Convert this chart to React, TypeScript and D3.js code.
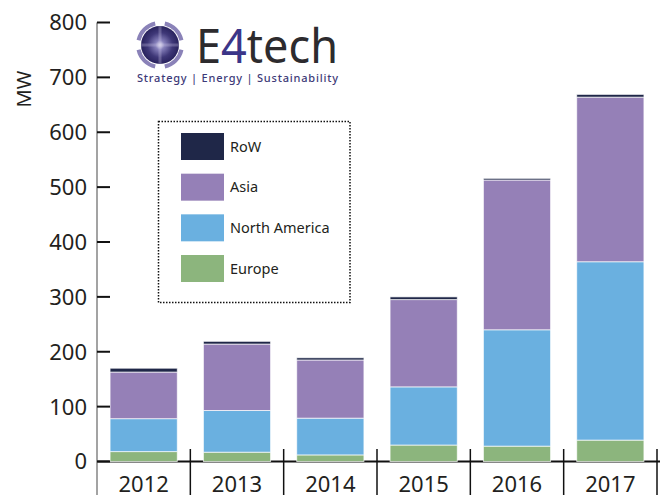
import React from "react";
import * as d3 from "d3";

// values (MW)
const years = ["2012", "2013", "2014", "2015", "2016", "2017"];
const europe = [18, 17, 12, 30, 28, 39];
const northAmerica = [60, 76, 67, 106, 212, 325];
const asia = [85, 121, 106, 159, 273, 300];
const row = [7, 5, 4, 5, 3, 5];
const yTickValues = [0, 100, 200, 300, 400, 500, 600, 700, 800];

const seriesKeys = ["Europe", "North America", "Asia", "RoW"];
const seriesColors = ["#8cb57d", "#6ab0e0", "#9580b7", "#1f2748"];
const legendOrder = ["RoW", "Asia", "North America", "Europe"];

const width = 661;
const height = 495;
const font = "'Noto Sans', 'Open Sans', sans-serif";

const Logo = () => {
  const cx = 160, cy = 45;
  const ringArc = d3.arc<any>().innerRadius(20).outerRadius(24);
  const segs = [0, 1, 2, 3].map(i => ({
    startAngle: (i * Math.PI) / 2 + 0.22,
    endAngle: ((i + 1) * Math.PI) / 2 - 0.22,
  }));
  return (
    <g>
      <defs>
        <radialGradient id="sphere" cx="50%" cy="50%" r="55%">
          <stop offset="0%" stopColor="#e6e4f4" />
          <stop offset="22%" stopColor="#8680bb" />
          <stop offset="60%" stopColor="#3f3878" />
          <stop offset="100%" stopColor="#221c55" />
        </radialGradient>
      </defs>
      <g transform={`translate(${cx},${cy})`}>
        {segs.map((s, i) => (
          <path key={i} d={ringArc(s) as string} fill="#8a82b8" />
        ))}
        <circle r={19} fill="url(#sphere)" />
        <line x1={-19} x2={19} stroke="#c9c5e4" strokeOpacity={0.3} strokeWidth={3} />
        <line y1={-19} y2={19} stroke="#c9c5e4" strokeOpacity={0.3} strokeWidth={3} />
      </g>
      <text x={196} y={63} fontFamily={font} fontSize={47} fill="#2d2b2e" textLength={142} lengthAdjust="spacingAndGlyphs">
        E<tspan fill="#3b3588">4</tspan>tech
      </text>
      <text x={137} y={82} fontFamily={font} fontSize={11} fontWeight={500} fill="#3d3a78" textLength={201} lengthAdjust="spacing">
        Strategy | Energy | Sustainability
      </text>
    </g>
  );
};

export default function App() {
  const x0 = 97, x1 = 657;
  const yScale = d3.scaleLinear().domain([0, 800]).range([461.5, 22.5]);
  const xBand = d3.scaleBand<string>().domain(years).range([x0, x1]).paddingInner(0.28).paddingOuter(0.14);
  const xSlot = d3.scaleBand<string>().domain(years).range([x0, x1]).padding(0);

  const table = years.map((yr, i) => ({
    year: yr,
    Europe: europe[i],
    "North America": northAmerica[i],
    Asia: asia[i],
    RoW: row[i],
  }));
  const stacked = d3.stack<any>().keys(seriesKeys)(table);
  const color = d3.scaleOrdinal<string, string>().domain(seriesKeys).range(seriesColors);

  const legendY = d3.scalePoint<string>().domain(legendOrder).range([133, 255]);

  return (
    <svg width={width} height={height} style={{ position: "absolute", left: 0, top: 0, background: "#fff" }}>
      <Logo />

      {/* stacked bars */}
      <line x1={x0} x2={x1 + 3} y1={yScale(0)} y2={yScale(0)} stroke="#111" strokeWidth={2} />
      {stacked.map(layer => (
        <g key={layer.key} fill={color(layer.key)}>
          {layer.map((d, i) => (
            <rect
              key={i}
              x={xBand(years[i])}
              width={xBand.bandwidth()}
              y={yScale(d[1])}
              height={yScale(d[0]) - yScale(d[1])}
              stroke="#ffffff"
              strokeOpacity={0.75}
              strokeWidth={0.9}
            />
          ))}
        </g>
      ))}

      {/* y axis */}
      <line x1={x0} x2={x0} y1={yScale(800)} y2={height} stroke="#666" strokeWidth={1.2} />
      {yTickValues.map(v => (
        <g key={v} transform={`translate(0,${yScale(v)})`}>
          <line x1={x0} x2={x0 + 13} stroke="#111" strokeWidth={2} />
          <text x={87} dy="0.36em" textAnchor="end" fontFamily={font} fontSize={22} fill="#231f20">
            {v}
          </text>
        </g>
      ))}
      <text transform="translate(31,89) rotate(-90)" textAnchor="middle" fontFamily={font} fontSize={20} fill="#231f20">
        MW
      </text>

      {/* x axis separators and labels */}
      {years.map(yr => (
        <g key={yr}>
          <line
            x1={(xSlot(yr) as number) + xSlot.bandwidth()}
            x2={(xSlot(yr) as number) + xSlot.bandwidth()}
            y1={449}
            y2={height}
            stroke="#111"
            strokeWidth={1.5}
          />
          <text
            x={(xSlot(yr) as number) + xSlot.bandwidth() / 2}
            y={492}
            textAnchor="middle"
            fontFamily={font}
            fontSize={22}
            fill="#231f20"
          >
            {yr}
          </text>
        </g>
      ))}

      {/* legend */}
      <rect x={158.5} y={121.5} width={191.5} height={181} fill="none" stroke="#111" strokeWidth={1.5} strokeDasharray="1.5 1.5" />
      {legendOrder.map(k => (
        <g key={k} transform={`translate(181,${legendY(k)})`}>
          <rect width={43} height={27} fill={color(k)} />
          <text x={49} y={13.5} dy="0.36em" fontFamily={font} fontSize={14.5} fill="#231f20">
            {k}
          </text>
        </g>
      ))}
    </svg>
  );
}
